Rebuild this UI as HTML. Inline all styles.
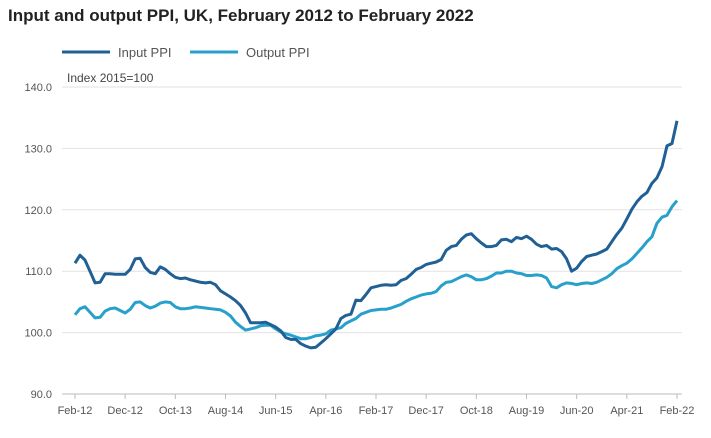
<!DOCTYPE html>
<html><head><meta charset="utf-8"><style>
body{margin:0;background:#fff;font-family:"Liberation Sans",sans-serif}
</style></head><body>
<svg width="711" height="433" xmlns="http://www.w3.org/2000/svg">
<text x="8" y="21" font-size="17" font-weight="bold" fill="#222">Input and output PPI, UK, February 2012 to February 2022</text>
<g>
<line x1="62" y1="52" x2="110" y2="52" stroke="#206095" stroke-width="3"/>
<text x="118" y="57" font-size="13" fill="#555">Input PPI</text>
<line x1="190" y1="52" x2="238" y2="52" stroke="#27a0cc" stroke-width="3"/>
<text x="246" y="57" font-size="13" fill="#555">Output PPI</text>
</g>
<text x="67" y="82" font-size="12" fill="#444">Index 2015=100</text>
<g id="grid"></g><g id="series"></g><g id="xaxis"></g>
</svg>
<script>
const months=["Feb-12","Dec-12","Oct-13","Aug-14","Jun-15","Apr-16","Feb-17","Dec-17","Oct-18","Aug-19","Jun-20","Apr-21","Feb-22"];
const yTicks=[90,100,110,120,130,140];
const inputPPI=[111.3,112.6,111.8,110,108.1,108.2,109.6,109.6,109.5,109.5,
109.5,110.3,112,112.1,110.6,109.8,109.6,110.7,110.3,109.6,
109,108.8,108.9,108.6,108.4,108.2,108.1,108.2,107.8,106.8,
106.3,105.8,105.2,104.4,103.2,101.6,101.6,101.6,101.7,101.3,
100.9,100.3,99.2,98.9,98.9,98.2,97.8,97.5,97.6,98.3,
99,99.8,100.6,102.3,102.8,103,105.3,105.2,106.2,107.3,
107.5,107.7,107.8,107.7,107.8,108.5,108.8,109.5,110.3,110.6,
111.1,111.3,111.5,111.9,113.4,114,114.2,115.2,115.9,116.1,
115.3,114.6,114,114,114.2,115.1,115.2,114.8,115.5,115.3,
115.7,115.2,114.4,114,114.2,113.6,113.7,113.2,112,110,
110.5,111.6,112.4,112.6,112.8,113.2,113.6,114.8,116,117,
118.5,120.1,121.3,122.2,122.8,124.3,125.2,127,130.4,130.8,134.5];
const outputPPI=[102.9,103.9,104.2,103.3,102.4,102.5,103.5,103.9,104,103.6,
103.2,103.8,104.9,105,104.4,104,104.3,104.8,105,104.9,
104.2,103.9,103.9,104,104.2,104.1,104,103.9,103.8,103.7,
103.3,102.7,101.7,101,100.4,100.6,100.8,101.1,101.2,101.2,
100.6,100.1,99.8,99.6,99.3,99,99,99.2,99.5,99.6,
99.8,100.4,100.6,100.8,101.5,101.9,102.3,103,103.3,103.6,
103.7,103.8,103.8,104,104.3,104.6,105.1,105.5,105.8,106.1,
106.3,106.4,106.7,107.6,108.2,108.3,108.7,109.1,109.4,109.1,
108.6,108.6,108.8,109.2,109.7,109.7,110,110,109.7,109.6,
109.3,109.3,109.4,109.3,108.9,107.5,107.3,107.8,108.1,108,
107.8,108,108.1,108,108.2,108.6,109,109.6,110.4,110.9,
111.3,112,112.9,113.8,114.8,115.6,117.8,118.8,119.1,120.5,121.5];
const NS="http://www.w3.org/2000/svg";
const X0=75,X1=677,Y0=394,Y1=87,N=inputPPI.length;
const xs=i=>X0+(X1-X0)*i/(N-1);
const ys=v=>Y0-(v-90)/(140-90)*(Y0-Y1);
function mk(t,a,p){const e=document.createElementNS(NS,t);for(const k in a)e.setAttribute(k,a[k]);p.appendChild(e);return e;}
const grid=document.getElementById('grid');
yTicks.forEach(v=>{
  const l=mk('line',{x1:62,x2:X1+5,y1:ys(v),y2:ys(v),stroke:v===90?'#bbb':'#e2e2e2','stroke-width':1},grid);
  
  
  const t=mk('text',{x:52,y:ys(v)+4,'text-anchor':'end','font-size':11,fill:'#555'},grid);
  t.textContent=v.toFixed(1);
  
  
});
const xa=document.getElementById('xaxis');
months.forEach((m,k)=>{
  const x=xs(k*10);
  const tk=mk('line',{x1:x,x2:x,y1:Y0,y2:Y0+5,stroke:'#bbb'},xa);
  
  
  const t=mk('text',{x:x,y:Y0+20,'text-anchor':'middle','font-size':11,fill:'#555'},xa);
  t.textContent=m;
  
  
});
const sg=document.getElementById('series');
function line(d,c,n){
  const p=mk('polyline',{points:d.map((v,i)=>xs(i).toFixed(1)+','+ys(v).toFixed(1)).join(' '),fill:'none',stroke:c,'stroke-width':3,'stroke-linejoin':'round'},sg);
  
  
}
line(outputPPI,'#27a0cc','output-ppi-line');
line(inputPPI,'#206095','input-ppi-line');
</script>
</body></html>
